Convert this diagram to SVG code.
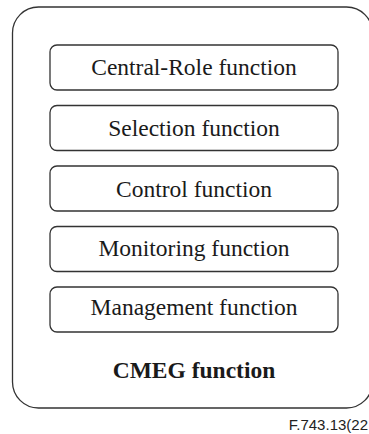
<svg xmlns="http://www.w3.org/2000/svg" width="369" height="434" viewBox="0 0 369 434">
<style>
.box{fill:#fff;stroke:#333;stroke-width:1.3}
.t{font-family:"Liberation Serif",serif;font-size:23.5px;fill:#1a1a1a;text-anchor:middle}
.b{font-weight:bold}
.f{font-family:"Liberation Sans",Arial,sans-serif;font-size:15px;fill:#222;text-anchor:end}
</style>
<rect width="369" height="434" fill="#fff"/>
<g id="cmeg">
<rect x="12.5" y="7" width="360" height="401" rx="26" ry="26" class="box"/>
<text x="194" y="378" class="t b">CMEG function</text>
</g>
<g id="central-role">
<rect x="50" y="45" width="288" height="45" rx="7" class="box"/>
<text x="194" y="75" class="t">Central-Role function</text>
</g>
<g id="selection">
<rect x="50" y="105.5" width="288" height="45" rx="7" class="box"/>
<text x="194" y="136" class="t">Selection function</text>
</g>
<g id="control">
<rect x="50" y="166" width="288" height="45" rx="7" class="box"/>
<text x="194" y="196.5" class="t">Control function</text>
</g>
<g id="monitoring">
<rect x="50" y="226.5" width="288" height="45" rx="7" class="box"/>
<text x="194" y="256" class="t">Monitoring function</text>
</g>
<g id="management">
<rect x="50" y="287" width="288" height="45" rx="7" class="box"/>
<text x="194" y="315" class="t">Management function</text>
</g>
<g id="connectors"></g>
<text x="368" y="430" class="f">F.743.13(22</text>
</svg>
